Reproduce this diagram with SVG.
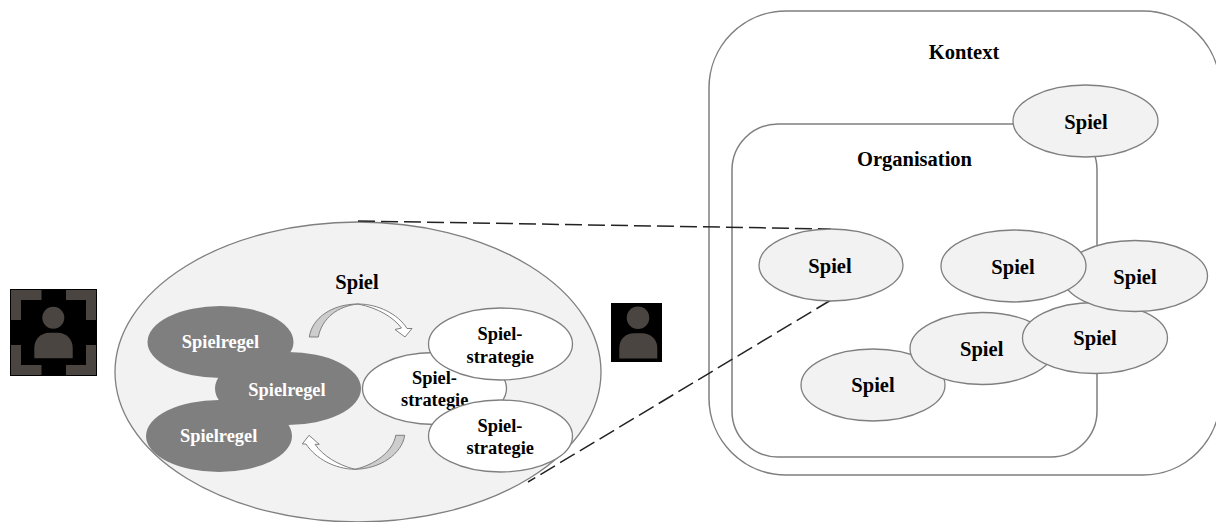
<svg xmlns="http://www.w3.org/2000/svg" width="1216" height="522" viewBox="0 0 1216 522">
<defs>
<style>
text{font-family:"Liberation Serif","Times New Roman",serif;font-weight:bold;font-size:20.5px;text-anchor:middle;fill:#000}
.s{font-size:18.4px}
.l{fill:#fff}
.g{fill:#f2f2f2;stroke:#7f7f7f;stroke-width:1.3}
.w{fill:#fff;stroke:#7f7f7f;stroke-width:1.3}
.d{fill:#7f7f7f}
.box{fill:#fff;stroke:#7f7f7f;stroke-width:1.5}
.dash{fill:none;stroke:#222;stroke-width:1.5;stroke-dasharray:17 6}
.av{fill:#000}
.p{fill:#4a4541}
.ar{stroke:#7f7f7f;stroke-width:1}
.sh{fill:#cdcdcd}
.wf{fill:#fff}
</style>
</defs>
<g id="kontext"><rect class="box" x="709" y="11" width="511" height="464" rx="77" ry="77"/><text x="964" y="59">Kontext</text></g>
<g id="organisation"><rect class="box" x="732" y="124" width="365" height="333" rx="46" ry="46"/><text x="914.500" y="166">Organisation</text></g>
<g id="spiel-main"><ellipse class="g" cx="358" cy="372" rx="243" ry="150"/><text x="357" y="289">Spiel</text></g>
<g id="connectors">
<path class="dash" d="M358 221L831 229"/>
<path class="dash" d="M831 300L528 482"/>
<g id="arrow-top">
<path class="sh ar" d="M309.300 337C312 318 332 304 358 304C338 306 322 318 318.300 337Z"/>
<path class="wf ar" d="M358 304C378 304 398 314 407 328.500L412 328.500L405 337L395 329.500L401.500 328C393 317 378 308 358 304Z"/>
</g>
<g id="arrow-bottom">
<path class="sh ar" d="M404.700 435.300C402 454 380 469 355 469.300C374 465 393 452 395.700 435.300Z"/>
<path class="wf ar" d="M355 469.300C335 469 316 459 306 444L302.300 444L309 435.300L319.300 444.300L315 444.300C323 456 338 465 355 469.300Z"/>
</g>
</g>
<g id="regel-1"><ellipse class="d" cx="220.500" cy="342" rx="73" ry="36"/><text class="s l" x="220.500" y="348.300">Spielregel</text></g>
<g id="regel-3"><ellipse class="d" cx="219" cy="436" rx="73" ry="36"/><text class="s l" x="218.700" y="442.300">Spielregel</text></g>
<g id="regel-2"><ellipse class="d" cx="288" cy="388.500" rx="73" ry="36.500"/><text class="s l" x="287" y="395.700">Spielregel</text></g>
<g id="strategie-2"><ellipse class="w" cx="434.500" cy="388.500" rx="72" ry="36"/><text class="s" x="434.500" y="384">Spiel-</text><text class="s" x="434.700" y="406">strategie</text></g>
<g id="strategie-1"><ellipse class="w" cx="500.500" cy="344" rx="72" ry="36"/><text class="s" x="500" y="340">Spiel-</text><text class="s" x="500.300" y="362.700">strategie</text></g>
<g id="strategie-3"><ellipse class="w" cx="500.500" cy="436" rx="72" ry="36"/><text class="s" x="500" y="432.300">Spiel-</text><text class="s" x="500.300" y="454">strategie</text></g>
<g id="spiel-a"><ellipse class="g" cx="1085.500" cy="121" rx="72.500" ry="36"/><text x="1086" y="128.700">Spiel</text></g>
<g id="spiel-b"><ellipse class="g" cx="831" cy="265" rx="72" ry="36"/><text x="830" y="273">Spiel</text></g>
<g id="spiel-g"><ellipse class="g" cx="873" cy="385" rx="72" ry="36"/><text x="873" y="391.500">Spiel</text></g>
<g id="spiel-f"><ellipse class="g" cx="982" cy="348.500" rx="72" ry="36"/><text x="981.700" y="356">Spiel</text></g>
<g id="spiel-e"><ellipse class="g" cx="1095" cy="338" rx="72.500" ry="35.500"/><text x="1095" y="345">Spiel</text></g>
<g id="spiel-c"><ellipse class="g" cx="1135" cy="276" rx="72.500" ry="35.500"/><text x="1135" y="284">Spiel</text></g>
<g id="spiel-d"><ellipse class="g" cx="1013.500" cy="266" rx="72.500" ry="36"/><text x="1013" y="274">Spiel</text></g>
<g id="icon-focus">
<rect class="av" x="10" y="289" width="87" height="87"/>
<path class="p" d="M11 290H41.500V300H21V320H11ZM96 290H66V300H86V320H96ZM11 375H41.500V365H21V345H11ZM96 375H66V365H86V345H96Z"/>
<circle class="p" cx="53.300" cy="317.700" r="11"/>
<path class="p" d="M34.300 358.300V348C34.300 339 41 332.700 49 332.700H58C66 332.700 72.700 339 72.700 348V358.300Z"/>
</g>
<g id="icon-person">
<rect class="av" x="611" y="303" width="51" height="59"/>
<circle class="p" cx="638" cy="317.700" r="11.300"/>
<path class="p" d="M619.300 358.500V348C619.300 339 626 333.300 634 333.300H642C650 333.300 657.300 339 657.300 348V358.500Z"/>
</g>
</svg>
